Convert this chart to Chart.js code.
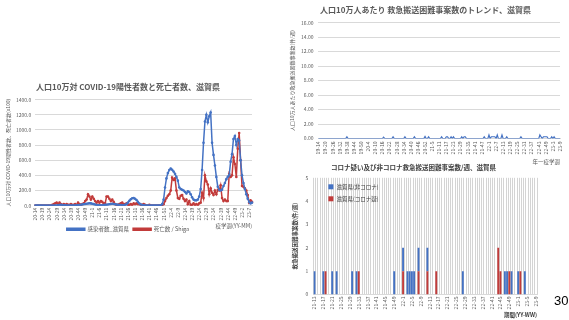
<!DOCTYPE html>
<html>
<head>
<meta charset="utf-8">
<script src="https://cdn.jsdelivr.net/npm/chart.js@4.4.0/dist/chart.umd.min.js"></script>
<style>
  body { margin: 0; width: 569px; height: 320px; background: #fff; position: relative; overflow: hidden; }
  .box { position: absolute; }
  #page { position: absolute; left: 554px; top: 293px; font: 13px 'Liberation Sans', Arial, sans-serif; color: #000; }
</style>
</head>
<body>
<div class="box" style="left:0;top:76px;width:272px;height:166px"><canvas id="cases"></canvas></div>
<div class="box" style="left:280px;top:0;width:289px;height:165px"><canvas id="trend"></canvas></div>
<div class="box" style="left:282px;top:160px;width:265px;height:160px"><canvas id="weekly"></canvas></div>
<div id="page">30</div>

<script>
// weeks per year used for the YY-W labels
const weeksInYear = { 19: 52, 20: 53, 21: 52, 22: 52, 23: 52 };

// left chart: weekly, from 20-14
const casesStart = [20, 14];
const casesPer100k = [
  2, 3, 3, 2, 1, 1, 0, 0, 0, 0,
  0, 0, 0, 0, 1, 3, 6, 9, 10, 8,
  6, 4, 3, 2, 1, 1, 1, 2, 3, 4,
  6, 8, 12, 16, 19, 22, 25, 28, 32, 30,
  26, 20, 14, 9, 6, 5, 5, 6, 8, 10,
  13, 16, 19, 22, 25, 22, 18, 14, 10, 8,
  8, 6, 5, 10, 20, 40, 65, 85, 98, 100,
  92, 75, 50, 28, 15, 8, 5, 3, 2, 2,
  1, 1, 1, 1, 1, 1, 2, 3, 5, 20,
  80, 240, 360, 430, 470, 490, 475, 450, 420, 380,
  330, 240, 220, 210, 200, 180, 160, 190, 180, 150,
  110, 80, 70, 70, 80, 120, 220, 470, 830, 1110,
  1200, 1100, 1180, 1230, 830, 670, 530, 380, 250, 210,
  200, 210, 260, 300, 350, 380, 400, 580, 680, 880,
  920, 800, 880, 860, 600, 400, 300, 220, 150, 90,
  50, 30, 40
];
const deathsX100 = [
  0, 0, 0, 0, 0, 0, 0, 0, 0, 0,
  0, 0, 10, 20, 30, 40, 20, 40, 20, 10,
  20, 10, 20, 10, 10, 20, 10, 10, 20, 10,
  40, 20, 10, 20, 30, 60, 80, 150, 120, 80,
  120, 90, 60, 40, 60, 40, 60, 50, 30, 30,
  120, 120, 90, 60, 80, 50, 20, 10, 10, 20,
  30, 40, 20, 20, 30, 10, 10, 20, 10, 30,
  20, 30, 20, 20, 10, 10, 20, 10, 0, 0,
  10, 0, 0, 0, 0, 0, 0, 0, 0, 0,
  20, 60, 100, 130, 150, 200, 370, 340, 360, 200,
  100, 90, 130, 140, 90, 60, 80, 20, 60, 10,
  10, 30, 10, 20, 10, 30, 40, 170, 100, 400,
  320, 280, 150, 230, 170, 140, 200, 150, 210, 200,
  270, 100, 60, 80, 60, 60, 420, 380, 400, 640,
  550, 380, 750, 960, 600, 260, 250, 230, 200, 140,
  40, 70, 50
];

// top right: weekly, from 19-14
const trendStart = [19, 14];
const hardCasesPer100k = [
  0, 0, 0, 0, 0, 0, 0, 0, 0, 0,
  0, 0, 0, 0, 0, 0, 0, 0, 0, 0,
  0, 0, 0, 0, 0.25, 0, 0, 0, 0, 0,
  0, 0, 0, 0, 0, 0, 0, 0, 0, 0,
  0, 0, 0, 0, 0, 0, 0, 0, 0, 0,
  0, 0, 0, 0, 0, 0.2, 0, 0, 0, 0,
  0, 0, 0, 0.25, 0, 0, 0, 0, 0, 0,
  0, 0, 0, 0.25, 0, 0, 0, 0, 0, 0,
  0, 0.25, 0, 0, 0, 0, 0, 0, 0, 0,
  0.3, 0, 0, 0.25, 0, 0, 0, 0, 0, 0,
  0, 0, 0, 0, 0.25, 0, 0, 0, 0.25, 0.25,
  0, 0, 0.25, 0, 0.25, 0, 0, 0, 0, 0,
  0, 0.25, 0, 0.25, 0.25, 0, 0, 0, 0, 0,
  0, 0, 0, 0, 0, 0, 0, 0, 0, 0,
  0.25, 0, 0, 0, 0.5, 0, 0.25, 0.25, 0.25, 0.25,
  0, 0.5, 0, 0, 0, 0.5, 0, 0, 0, 0.25,
  0, 0, 0, 0, 0, 0, 0, 0, 0, 0,
  0, 0.25, 0, 0, 0, 0, 0, 0, 0, 0,
  0, 0, 0, 0, 0, 0, 0, 0.5, 0.25, 0,
  0.25, 0.25, 0.25, 0.25, 0, 0, 0, 0.25, 0, 0.25,
  0, 0, 0, 0, 0
];

// bottom right: weekly counts, from 21-13
const weeklyStart = [21, 13];
const nonCovid = [
  1, 0, 0, 0, 1, 0, 0, 0, 1, 0,
  1, 0, 0, 0, 0, 0, 0, 1, 0, 1,
  0, 0, 0, 0, 0, 0, 0, 0, 0, 0,
  0, 0, 0, 0, 0, 0, 1, 0, 0, 0,
  1, 0, 1, 1, 1, 1, 0, 1, 0, 0,
  0, 1, 0, 0, 0, 0, 0, 0, 0, 0,
  0, 0, 0, 0, 0, 0, 0, 1, 0, 0,
  0, 0, 0, 0, 0, 0, 0, 0, 0, 0,
  0, 0, 0, 0, 0, 0, 1, 1, 0, 1,
  0, 0, 1, 0, 0, 1, 0, 0, 0, 0,
  0
];
const covidSuspected = [
  0, 0, 0, 0, 0, 1, 0, 0, 0, 0,
  0, 0, 0, 0, 0, 0, 0, 0, 0, 0,
  1, 0, 0, 0, 0, 0, 0, 0, 0, 0,
  0, 0, 0, 0, 0, 0, 0, 0, 0, 0,
  1, 0, 0, 0, 0, 0, 0, 1, 0, 0,
  0, 1, 0, 0, 0, 1, 0, 0, 0, 0,
  0, 0, 0, 0, 0, 0, 0, 0, 0, 0,
  0, 0, 0, 0, 0, 0, 0, 0, 0, 0,
  0, 0, 0, 2, 1, 0, 0, 0, 1, 0,
  0, 0, 0, 1, 0, 0, 0, 0, 0, 0,
  0
];

const BLUE = '#4472C4';
const RED = '#C23B3A';
const GRID = '#d9d9d9';
const TICK = '#595959';

Chart.defaults.font.family = "'Noto Sans CJK JP', 'Noto Sans', sans-serif";
Chart.defaults.color = TICK;
Chart.defaults.animation = false;

function weekLabels(start, count) {
  let y = start[0], w = start[1];
  const out = [];
  for (let i = 0; i < count; i++) {
    out.push(y + '-' + w);
    w++;
    if (w > weeksInYear[y]) { y++; w = 1; }
  }
  return out;
}

function everyNth(n) {
  return function(value, index) {
    return index % n === 0 ? this.getLabelForValue(value) : '';
  };
}

// x-axis caption written at the right end, just under the tick labels,
// so the legend can sit beside it instead of below it
const cornerCaption = {
  id: 'cornerCaption',
  afterDraw(chart, args, opts) {
    const { ctx, chartArea, scales } = chart;
    ctx.save();
    ctx.font = "5.5px 'Noto Sans CJK JP', sans-serif";
    ctx.fillStyle = TICK;
    ctx.textAlign = 'right';
    ctx.textBaseline = 'top';
    ctx.fillText(opts.text, chartArea.right, scales.x.bottom + 1);
    ctx.restore();
  }
};

// left: positives and deaths
new Chart(document.getElementById('cases'), {
  type: 'line',
  data: {
    labels: weekLabels(casesStart, casesPer100k.length),
    datasets: [
      { label: '感染者数_滋賀県', data: casesPer100k, borderColor: BLUE, backgroundColor: BLUE,
        borderWidth: 1.5, pointRadius: 1.3, pointBorderWidth: 0 },
      { label: '死亡数 / Shiga', data: deathsX100, borderColor: RED, backgroundColor: RED,
        borderWidth: 1.5, pointRadius: 1.3, pointBorderWidth: 0 }
    ]
  },
  options: {
    responsive: true,
    maintainAspectRatio: false,
    layout: { padding: { left: 4, right: 20, top: 0, bottom: 0 } },
    plugins: {
      title: { display: true, text: '人口10万対 COVID-19陽性者数と死亡者数、滋賀県',
        font: { size: 8 }, color: TICK, padding: { top: 6, bottom: 8 } },
      legend: { position: 'bottom', labels: { font: { size: 5.5 }, boxWidth: 18, boxHeight: 2, padding: 4 } },
      cornerCaption: { text: '疫学週(YY-MM)' },
      tooltip: { enabled: false }
    },
    scales: {
      x: {
        grid: { display: false, drawTicks: false },
        border: { color: GRID },
        ticks: { autoSkip: false, maxRotation: 90, minRotation: 90, font: { size: 5 }, padding: 2,
          callback: everyNth(5) }
      },
      y: {
        min: 0, max: 1400,
        grid: { color: GRID, drawTicks: false },
        border: { display: false },
        ticks: { stepSize: 200, font: { size: 5 }, padding: 4, callback: v => v.toFixed(1) },
        title: { display: true, text: '人口10万対 COVID-19陽性者数、死亡者数(x100)', font: { size: 5 }, padding: 1 }
      }
    }
  },
  plugins: [cornerCaption]
});

// top right: trend per 100k
new Chart(document.getElementById('trend'), {
  type: 'line',
  data: {
    labels: weekLabels(trendStart, hardCasesPer100k.length),
    datasets: [{ data: hardCasesPer100k, borderColor: BLUE, borderWidth: 1.2, pointRadius: 0 }]
  },
  options: {
    responsive: true,
    maintainAspectRatio: false,
    layout: { padding: { left: 8, right: 6, top: 0, bottom: 0 } },
    plugins: {
      title: { display: true, text: '人口10万人あたり 救急搬送困難事案数のトレンド、滋賀県',
        font: { size: 8 }, color: TICK, padding: { top: 5, bottom: 8 } },
      legend: { display: false },
      tooltip: { enabled: false }
    },
    scales: {
      x: {
        grid: { display: false, drawTicks: false },
        border: { color: GRID },
        ticks: { autoSkip: false, maxRotation: 90, minRotation: 90, font: { size: 5 }, padding: 3,
          callback: everyNth(6) },
        title: { display: true, text: '年一疫学週', align: 'end', font: { size: 5.5 }, padding: { top: 1, bottom: 0 } }
      },
      y: {
        min: 0, max: 16,
        grid: { color: GRID, drawTicks: false },
        border: { display: false },
        ticks: { stepSize: 2, font: { size: 5 }, padding: 5, callback: v => v.toFixed(2) },
        title: { display: true, text: '人口10万人あたり救急搬送困難事案数(件/週)', font: { size: 5 }, padding: 1 }
      }
    }
  }
});

// legend drawn inside the plot, top-left
const innerLegend = {
  id: 'innerLegend',
  afterDraw(chart) {
    const { ctx, chartArea } = chart;
    const items = [chart.data.datasets[1], chart.data.datasets[0]];
    ctx.save();
    ctx.font = "5.5px 'Noto Sans CJK JP', sans-serif";
    ctx.textBaseline = 'middle';
    items.forEach((ds, i) => {
      const x = chartArea.left + 15, y = chartArea.top + 9 + i * 12;
      ctx.fillStyle = ds.backgroundColor;
      ctx.fillRect(x, y - 2.5, 5, 5);
      ctx.fillStyle = '#404040';
      ctx.fillText(ds.label, x + 8, y);
    });
    ctx.restore();
  }
};

// bottom right: weekly counts, stacked
new Chart(document.getElementById('weekly'), {
  type: 'bar',
  data: {
    labels: weekLabels(weeklyStart, nonCovid.length),
    datasets: [
      { label: '滋賀県(コロナ疑)', data: covidSuspected, backgroundColor: RED },
      { label: '滋賀県(非コロナ)', data: nonCovid, backgroundColor: BLUE }
    ]
  },
  options: {
    responsive: true,
    maintainAspectRatio: false,
    datasets: { bar: { barPercentage: 1, categoryPercentage: 0.85 } },
    layout: { padding: { left: 8, right: 10, top: 0, bottom: 0 } },
    plugins: {
      title: { display: true, text: 'コロナ疑い及び非コロナ救急搬送困難事案数/週、滋賀県',
        font: { size: 6.5, weight: 'bold' }, color: '#404040', padding: { top: 4, bottom: 6 } },
      legend: { display: false },
      tooltip: { enabled: false }
    },
    scales: {
      x: {
        stacked: true,
        grid: { color: '#d4d4d4', drawTicks: false },
        border: { color: GRID },
        ticks: { autoSkip: false, maxRotation: 90, minRotation: 90, font: { size: 5 }, padding: 2,
          callback: everyNth(4) },
        title: { display: true, text: '期間(YY-WW)', align: 'end', font: { size: 5.5, weight: 'bold' }, color: '#404040',
          padding: { top: 0, bottom: 2 } }
      },
      y: {
        stacked: true,
        min: 0, max: 5,
        grid: { display: false, drawTicks: false },
        border: { display: false },
        ticks: { stepSize: 1, font: { size: 5 }, padding: 5 },
        title: { display: true, text: '救急搬送困難事案数(件/週)', font: { size: 5.5, weight: 'bold' }, color: '#404040', padding: 2 }
      }
    }
  },
  plugins: [innerLegend]
});
</script>
</body>
</html>
